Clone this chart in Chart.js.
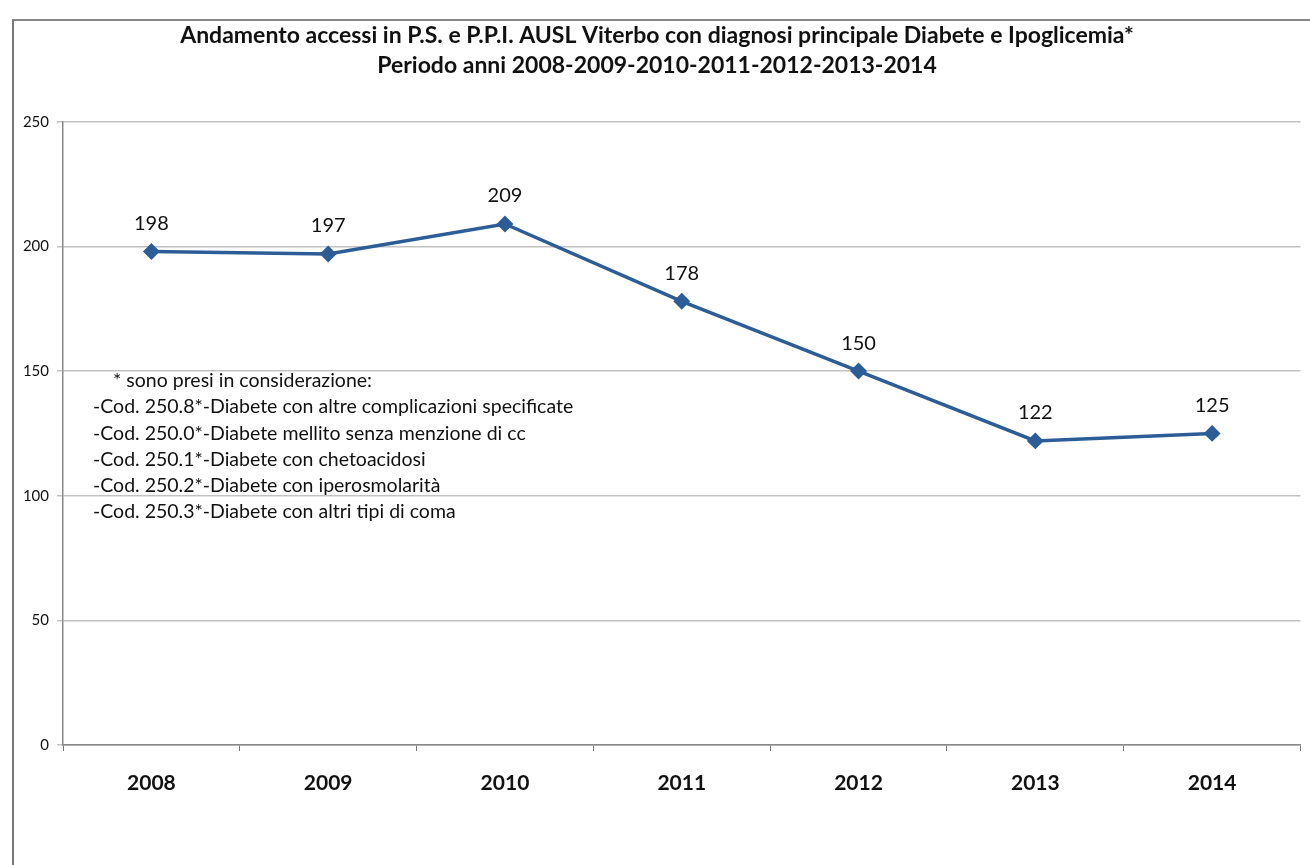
<!DOCTYPE html>
<html>
<head>
<meta charset="utf-8">
<title>Andamento accessi P.S. e P.P.I. AUSL Viterbo</title>
<script src="https://cdn.jsdelivr.net/npm/chart.js"></script>
<style>
  html, body { margin: 0; padding: 0; background: #fff; }
  #wrap { position: relative; width: 1310px; height: 865px; }
  #frame { position: absolute; left: 12px; top: 19px; right: -2px; bottom: -2px;
           border-left: 2px solid #777; border-top: 2px solid #888; pointer-events: none; }
</style>
</head>
<body>
<div id="wrap">
  <canvas id="myChart" width="1310" height="865"></canvas>
  <div id="frame"></div>
</div>
<script>
// dati
const anni = ['2008', '2009', '2010', '2011', '2012', '2013', '2014']
const accessi = [198, 197, 209, 178, 150, 122, 125]
const tickY = [0, 50, 100, 150, 200, 250]

const titolo = [
  'Andamento accessi in P.S. e P.P.I. AUSL Viterbo con diagnosi principale Diabete e Ipoglicemia*',
  'Periodo anni 2008-2009-2010-2011-2012-2013-2014'
]
const nota = [
  '* sono presi in considerazione:',
  '-Cod. 250.8*-Diabete con altre complicazioni specificate',
  '-Cod. 250.0*-Diabete mellito senza menzione di cc',
  '-Cod. 250.1*-Diabete con chetoacidosi',
  '-Cod. 250.2*-Diabete con iperosmolarità',
  '-Cod. 250.3*-Diabete con altri tipi di coma'
]

const FONT = 'Lato, "Noto Sans", sans-serif'
const BLU = '#2c5d97'

// etichette dei valori sopra i punti
const etichette = {
  id: 'etichette',
  afterDatasetsDraw (chart) {
    const ctx = chart.ctx
    const meta = chart.getDatasetMeta(0)
    ctx.save()
    ctx.font = '20px ' + FONT
    ctx.fillStyle = '#111'
    ctx.textAlign = 'center'
    ctx.textBaseline = 'bottom'
    meta.data.forEach((pt, i) => {
      ctx.fillText(String(accessi[i]), pt.x, pt.y - 18)
    })
    ctx.restore()
  }
}

// nota con i codici diagnosi
const notaPlugin = {
  id: 'nota',
  afterDraw (chart) {
    const ctx = chart.ctx
    const area = chart.chartArea
    ctx.save()
    ctx.font = '19.5px ' + FONT
    ctx.fillStyle = '#111'
    ctx.textAlign = 'left'
    ctx.textBaseline = 'middle'
    nota.forEach((riga, i) => {
      ctx.fillText(riga, area.left + (i === 0 ? 50 : 30), 381 + i * 26.2)
    })
    ctx.restore()
  }
}

const ctx = document.getElementById('myChart').getContext('2d')
const myChart = new Chart(ctx, {
  type: 'line',
  data: {
    labels: anni,
    datasets: [{
      label: 'Accessi',
      data: accessi,
      borderColor: BLU,
      backgroundColor: BLU,
      borderWidth: 3.5,
      pointStyle: 'rectRot',
      pointRadius: 6,
      pointHoverRadius: 6,
      tension: 0,
      fill: false
    }]
  },
  options: {
    responsive: false,
    animation: false,
    layout: { padding: { left: 12, right: 8, top: 0, bottom: 0 } },
    plugins: {
      legend: { display: false },
      tooltip: { enabled: false },
      title: {
        display: true,
        text: titolo,
        color: '#111',
        font: { family: FONT, size: 23, weight: 'bold', lineHeight: 1.3 },
        padding: { top: 21, bottom: 41 }
      }
    },
    scales: {
      x: {
        offset: true,
        grid: { offset: true, drawOnChartArea: false, tickLength: 6, color: '#777' },
        border: { color: '#888', width: 1.5 },
        ticks: { color: '#111', padding: 20, font: { family: FONT, size: 21, weight: 'bold' } },
        afterFit (scale) { scale.height = 120 }
      },
      y: {
        min: 0,
        max: 250,
        afterBuildTicks (scale) { scale.ticks = tickY.map(v => ({ value: v })) },
        grid: { color: '#c2c2c2', lineWidth: 1.5, tickLength: 6 },
        border: { color: '#888', width: 1.5 },
        ticks: { color: '#111', padding: 8, font: { family: FONT, size: 15 } },
        afterFit (scale) { scale.width = 51 }
      }
    }
  },
  plugins: [etichette, notaPlugin]
})
</script>
</body>
</html>
